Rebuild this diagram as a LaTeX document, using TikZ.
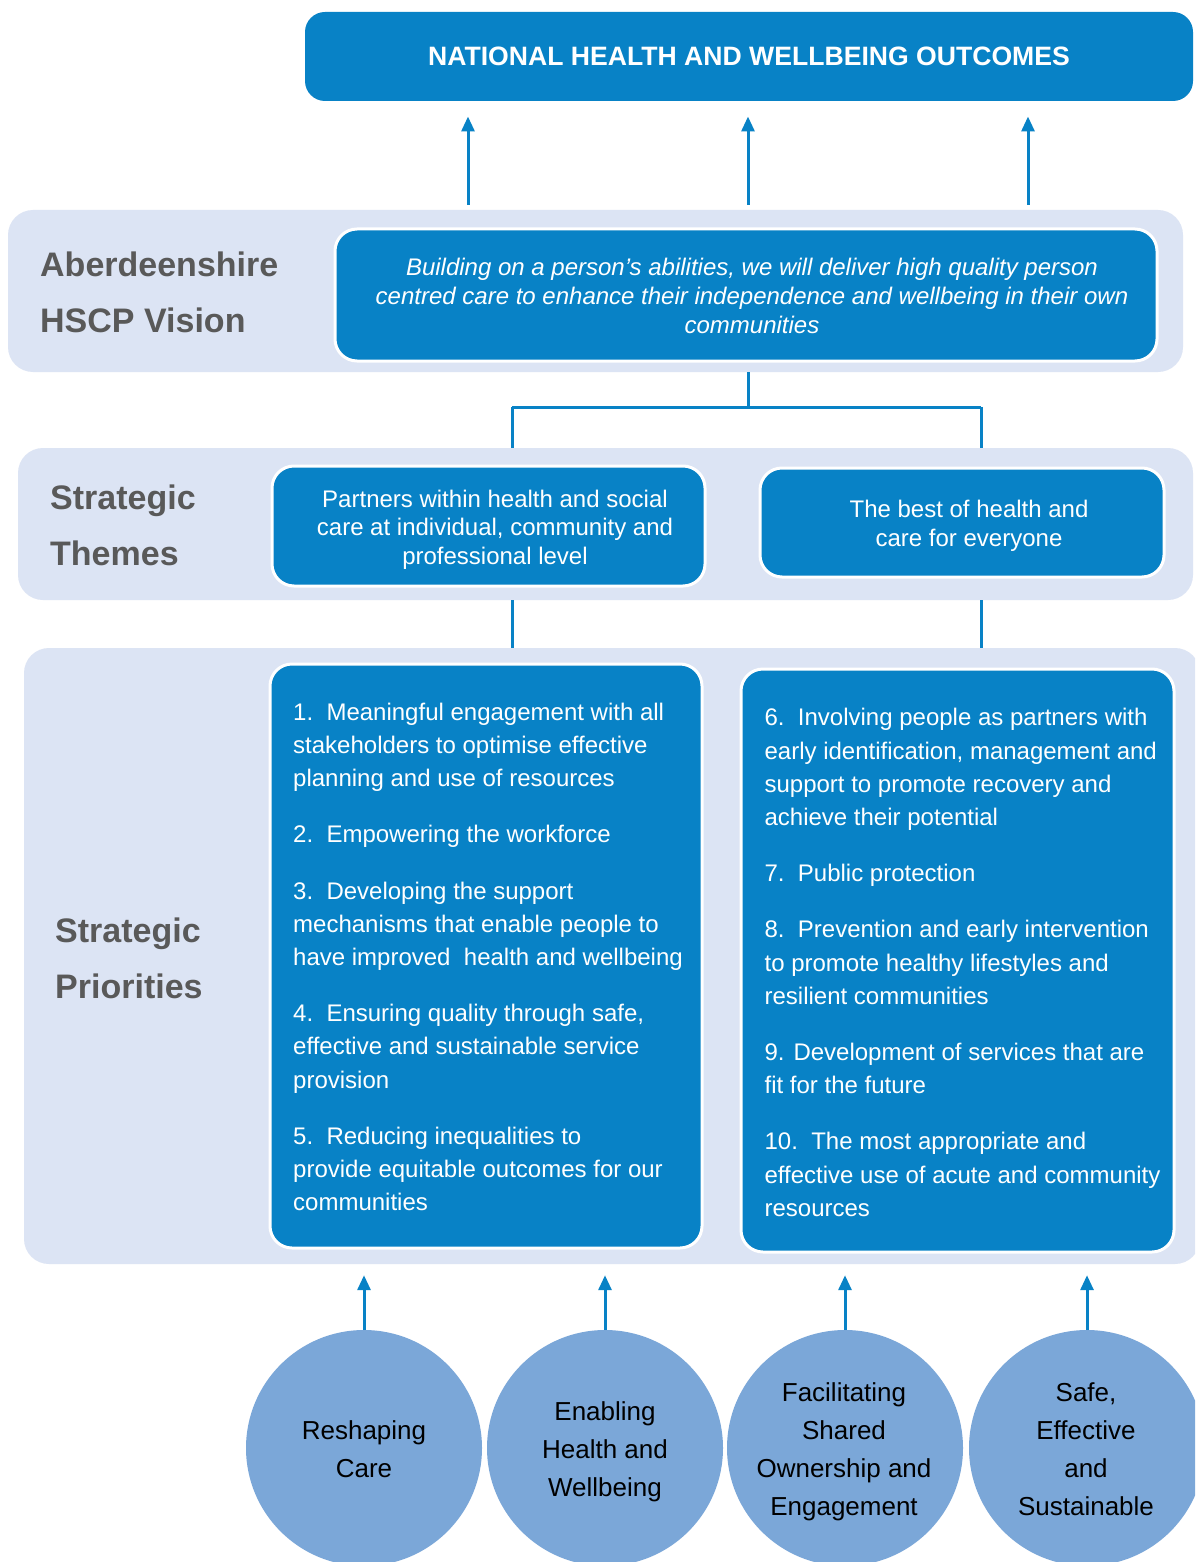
\documentclass[tikz,border=0pt]{standalone}
\usepackage{fontspec}
\setmainfont{Liberation Sans}
\usetikzlibrary{arrows.meta,calc}
\definecolor{hblue}{HTML}{0882C6}
\definecolor{bandc}{HTML}{DCE4F4}
\definecolor{lblgray}{HTML}{595959}
\definecolor{circc}{HTML}{7BA7D8}
\begin{document}
\begin{tikzpicture}[x=1pt,y=-1pt,
 bandbox/.style={fill=bandc, rounded corners=25pt, inner sep=0pt},
 bluebox/.style={fill=hblue, draw=white, line width=3pt, rounded corners=22pt, inner sep=0pt},
 txt/.style={text=white, align=center, inner sep=0pt},
 lbl/.style={text=lblgray, font=\fontsize{34}{56}\selectfont\bfseries, align=left, anchor=west, inner sep=0pt},
 conn/.style={draw=hblue, line width=3pt},
 arr/.style={conn, -{Triangle[length=15pt,width=13pt]}},
 pill/.style={circle, fill=circc, minimum size=236pt, inner sep=0pt},
 pilltxt/.style={align=center, inner sep=0pt, font=\fontsize{26}{38}\selectfont}
]
\useasboundingbox (0,0) rectangle (1195,1562);
\clip (0,0) rectangle (1195,1562);
\fill[white] (0,0) rectangle (1195,1562);

% top box
\node[bluebox, draw=none, rounded corners=20pt, minimum width=888pt, minimum height=89pt,
  text=white, font=\fontsize{26.6}{30}\selectfont\bfseries] (top) at (749,56.5) {NATIONAL HEALTH AND WELLBEING OUTCOMES};

% bands
\node[bandbox, minimum width=1175pt, minimum height=162pt] (vband) at (595.5,291) {};
\node[bandbox, minimum width=1175pt, minimum height=152pt] (tband) at (605.5,524) {};
\node[bandbox, minimum width=1176pt, minimum height=616pt] (pband) at (612,956) {};

% labels
\node[lbl] (lv) at (40,292) {Aberdeenshire\\HSCP Vision};
\node[lbl] (lt) at (50,525) {Strategic\\Themes};
\node[lbl] (lp) at (55,958) {Strategic\\Priorities};

% vision box
\node[bluebox, minimum width=822pt, minimum height=132pt] (vbox) at (746,295) {};
\node[txt, font=\fontsize{24}{29}\selectfont\itshape] (vtxt) at ($(vbox.center)+(6,1)$)
  {Building on a person’s abilities, we will deliver high quality person\\
   centred care to enhance their independence and wellbeing in their own\\
   communities};

% theme boxes
\node[bluebox, minimum width=433pt, minimum height=120pt] (t1) at (488.5,526) {};
\node[txt, font=\fontsize{24}{28.5}\selectfont] (t1txt) at ($(t1.center)+(6.5,3.5)$)
  {Partners within health and social\\care at individual, community and\\professional level};
\node[bluebox, minimum width=404pt, minimum height=109pt] (t2) at (962,522.5) {};
\node[txt, font=\fontsize{24}{29}\selectfont] (t2txt) at ($(t2.center)+(7,3)$)
  {The best of health and\\care for everyone};

% priority boxes
\node[bluebox, minimum width=432pt, minimum height=584pt] (p1) at (486,956) {};
\node[txt, align=left, font=\fontsize{24}{33.2}\selectfont] (p1txt) at ($(p1.center)+(2,1)$)
  {1.\ \ Meaningful engagement with all\\
   stakeholders to optimise effective\\
   planning and use of resources\\[23pt]
   2.\ \ Empowering the workforce\\[23pt]
   3.\ \ Developing the support\\
   mechanisms that enable people to\\
   have improved\ \ health and wellbeing\\[23pt]
   4.\ \ Ensuring quality through safe,\\
   effective and sustainable service\\
   provision\\[23pt]
   5.\ \ Reducing inequalities to\\
   provide equitable outcomes for our\\
   communities};
\node[bluebox, minimum width=433pt, minimum height=583pt] (p2) at (957.5,960.5) {};
\node[txt, align=left, font=\fontsize{24}{33.2}\selectfont] (p2txt) at ($(p2.center)+(5,2)$)
  {6.\ \ Involving people as partners with\\
   early identification, management and\\
   support to promote recovery and\\
   achieve their potential\\[23pt]
   7.\ \ Public protection\\[23pt]
   8.\ \ Prevention and early intervention\\
   to promote healthy lifestyles and\\
   resilient communities\\[23pt]
   9. Development of services that are\\
   fit for the future\\[23pt]
   10.\ \ The most appropriate and\\
   effective use of acute and community\\
   resources};

% circles
\node[pill] (c1) at (364,1448) {};
\node[pill] (c2) at (605,1448) {};
\node[pill] (c3) at (845,1448) {};
\node[pill] (c4) at (1087,1448) {};
\node[pilltxt] (c1txt) at ($(c1.center)+(0,1)$) {Reshaping\\Care};
\node[pilltxt] (c2txt) at ($(c2.center)+(0,4)$) {Enabling\\Health and\\Wellbeing};
\node[pilltxt] (c3txt) at ($(c3.center)+(-1,4)$) {Facilitating\\Shared\\Ownership and\\Engagement};
\node[pilltxt] (c4txt) at ($(c4.center)+(-1,1)$) {Safe,\\Effective\\and\\Sustainable};

% top arrows
\coordinate (x1) at (468,0);
\coordinate (x2) at (748,0);
\coordinate (x3) at (1028,0);
\foreach \c in {x1,x2,x3}
  \draw[arr, shorten <=5pt, shorten >=14pt] (vband.north -| \c) -- (top.south -| \c);

% tree connector
\coordinate (j) at (748,407);
\coordinate (jl) at (512,407);
\coordinate (jr) at (981,407);
\draw[conn] (vband.south -| j) -- (j);
\draw[conn] (jl) -- (jr);
\draw[conn] (jl) -- (tband.north -| jl);
\draw[conn] (jr) -- (tband.north -| jr);
\draw[conn] (tband.south -| jl) -- (pband.north -| jl);
\draw[conn] (tband.south -| jr) -- (pband.north -| jr);

% bottom arrows
\foreach \c in {c1,c2,c3,c4}
  \draw[arr, shorten >=11pt] (\c.north) -- (pband.south -| \c.north);
\end{tikzpicture}
\end{document}
